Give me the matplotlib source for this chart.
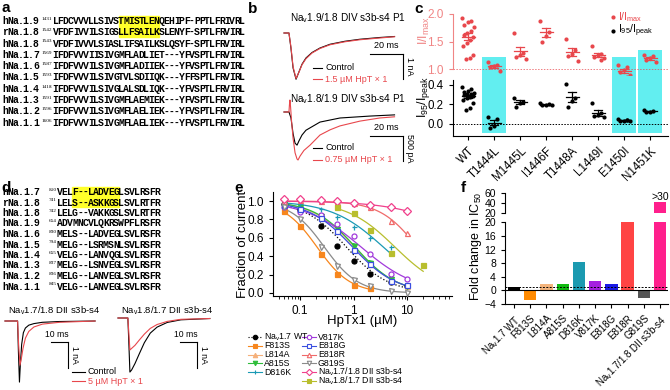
import numpy as np
import matplotlib
matplotlib.use('Agg')
import matplotlib.pyplot as plt
from matplotlib.patches import Rectangle

plt.rcParams['font.family'] = ['Liberation Sans', 'DejaVu Sans']
plt.rcParams['mathtext.fontset'] = 'custom'
plt.rcParams['mathtext.rm'] = 'Liberation Sans'
plt.rcParams['mathtext.it'] = 'Liberation Sans:italic'
plt.rcParams['axes.linewidth'] = 0.8

W, H = 670, 390
RED = '#e8474c'
CYAN = '#62eef0'

# ---------------- data ----------------
# a: DIV s3b-s4 alignment
names_a = ['hNa.1.9', 'rNa.1.8', 'hNa.1.8', 'hNa.1.7', 'hNa.1.6',
           'hNa.1.5', 'hNa.1.4', 'hNa.1.3', 'hNa.1.2', 'hNa.1.1']
starts_a = ['1431', '1542', '1543', '1569', '1587', '1593', '1418', '1591', '1596', '1606']
seqs_a = ['LFDCVVVLLSIVSTMISTLENQEHIPF-PPTLFRIVRL',
          'VFDFIVVILSIGSLLFSAILKSLENYF-SPTLFRVIRL',
          'VFDFIVVVLSIASLIFSAILKSLQSYF-SPTLFRVIRL',
          'IFDFVVVIISIVGMFLADLIET---YFVSPTLFRVIRL',
          'IFDFVVVILSIVGMFLADIIEK---YFVSPTLFRVIRL',
          'IFDFVVVILSIVGTVLSDIIQK---YFFSPTLFRVIRL',
          'IFDFVVVILSIVGLALSDLIQK---YFVSPTLFRVIRL',
          'IFDFVVVILSIVGMFLAEMIEK---YFVSPTLFRVIRL',
          'IFDFVVVILSIVGMFLAELIEK---YFVSPTLFRVIRL',
          'IFDFVVVILSIVGMFLAELIEK---YFVSPTLFRVIRL']
hl_a = (13, 21)

# d: DII s3b-s4 alignment
names_d = ['hNa.1.7', 'rNa.1.8', 'hNa.1.8', 'hNa.1.9', 'hNa.1.6',
           'hNa.1.5', 'hNa.1.4', 'hNa.1.3', 'hNa.1.2', 'hNa.1.1']
starts_d = ['810', '741', '742', '654', '830', '794', '655', '837', '836', '845']
seqs_d = ['VELF--LADVEGLSVLRSFR',
          'LELS--ASKKGSLSVLRTFR',
          'LELG--VAKKGSLSVLRTFR',
          'ADVMNCVLQKRSWPFLRSFR',
          'MELS--LADVEGLSVLRSFR',
          'MELG--LSRMSNLSVLRSFR',
          'VELG--LANVQGLSVLRSFR',
          'MELG--LSNVEGLSVLRSFR',
          'MELG--LANVEGLSVLRSFR',
          'VELG--LANVEGLSVLRSFR']
hl_d = (3, 12)

# b: current traces (ms, nA / pA)
b1_t = [0, 3, 4.2, 5.5, 7.3, 9.1, 10.9, 13.3, 17, 21.8, 27.9, 37, 46, 58, 67]
b1_ctrl = [0, 0, -0.6, -1.4, -1.85, -1.55, -1.25, -1.0, -0.78, -0.6, -0.45, -0.33, -0.25, -0.18, -0.14]
b1_hpt = [0, 0, -0.55, -1.35, -1.82, -1.56, -1.27, -1.03, -0.8, -0.62, -0.47, -0.35, -0.27, -0.2, -0.15]
b2_t_ctrl = [0, 3, 4.2, 5.5, 6.7, 7.9, 9.1, 10.9, 13.3, 15.8, 21.8, 33.9, 52, 67]
b2_ctrl = [0, 0, -120, -450, -650, -690, -600, -480, -380, -330, -210, -125, -85, -60]
b2_t_hpt = [0, 3, 3.3, 3.6, 4.0, 4.6, 5.5, 6.7, 7.9, 8.5, 9.7, 12.1, 15.8, 21.8, 28, 33.9, 46, 58, 67]
b2_hpt = [0, 0, 150, 250, 100, -200, -550, -850, -980, -1000, -920, -800, -690, -480, -370, -290, -190, -125, -100]

# d: current traces (ms, nA)
d1_t_ctrl = [0, 7.4, 7.9, 8.5, 9.0, 9.8, 10.8, 12, 14, 17, 22, 32, 53]
d1_ctrl = [0, 0, -1.2, -2.35, -1.7, -0.9, -0.45, -0.27, -0.16, -0.1, -0.05, -0.02, 0.0]
d1_t_hpt = [0, 7.4, 8.0, 8.8, 9.6, 10.6, 12, 14, 17, 22, 32, 53]
d1_hpt = [0, 0, -0.9, -1.7, -1.45, -1.05, -0.66, -0.4, -0.23, -0.12, -0.05, 0.0]
d2_t_ctrl = [0, 5.8, 6.4, 7.0, 8, 10, 12.5, 15.5, 19, 23, 29, 37, 54]
d2_ctrl = [0, 0, -1.0, -2.08, -2.0, -1.75, -1.38, -0.95, -0.58, -0.35, -0.17, -0.07, -0.02]
d2_t_hpt = [0, 5.8, 6.4, 7.0, 8, 10, 12.5, 15.5, 19, 23, 29, 37, 54]
d2_hpt = [0, 0, -0.6, -1.23, -1.17, -1.05, -0.85, -0.62, -0.4, -0.25, -0.13, -0.05, -0.02]

# c: I/Imax and I95/Ipeak per mutant
c_muts = ['WT', 'T1444L', 'M1445L', 'I1446F', 'T1448A', 'L1449I', 'E1450I', 'N1451K']
c_imax = [[1.92, 1.88, 1.86, 1.8, 1.76, 1.7, 1.66, 1.62, 1.58, 1.52, 1.48, 1.42, 1.25, 1.2, 1.18],
          [1.13, 1.08, 1.05, 1.03, 0.97],
          [1.66, 1.3, 1.25, 1.22, 1.18],
          [1.88, 1.68, 1.6, 1.5],
          [1.55, 1.35, 1.27, 1.23, 1.14],
          [1.42, 1.28, 1.25, 1.22, 1.2, 1.17],
          [1.08, 1.03, 0.98, 0.95, 0.9, 0.86],
          [1.25, 1.23, 1.2, 1.17, 1.12]]
c_i95 = [[0.38, 0.36, 0.34, 0.33, 0.32, 0.31, 0.31, 0.30, 0.29, 0.28, 0.27, 0.25, 0.22, 0.16, 0.14],
         [0.07, 0.05, -0.02, -0.04],
         [0.27, 0.23, 0.22, 0.17],
         [0.22, 0.2, 0.19, 0.19, 0.19],
         [0.41, 0.27, 0.24, 0.17],
         [0.22, 0.11, 0.09, 0.08, 0.07],
         [0.05, 0.04, 0.035, 0.03, 0.03, 0.04],
         [0.145, 0.135, 0.12, 0.12]]
c_box_top = {'T1444L': 1.22, 'E1450I': 1.22, 'N1451K': 1.345}

# e: concentration-response
e_conc = [0.05, 0.1, 0.25, 0.5, 1, 2, 5, 10, 20]
nan = np.nan
frac_wt = [0.97, 0.90, 0.73, 0.51, 0.35, 0.21, 0.12, 0.08, nan]
frac_f813s = [0.89, 0.73, 0.42, 0.21, 0.09, 0.05, nan, nan, nan]
frac_l814a = [0.97, 0.92, 0.83, 0.68, 0.50, 0.32, 0.15, 0.08, nan]
frac_a815s = [0.97, 0.93, 0.84, 0.70, 0.51, 0.33, 0.15, 0.08, nan]
frac_d816k = [0.98, 0.97, 0.91, 0.83, 0.72, 0.60, 0.50, nan, nan]
frac_v817k = [0.93, 0.88, 0.85, 0.75, 0.62, 0.42, 0.21, 0.15, nan]
frac_e818g = [0.96, 0.91, 0.82, 0.67, 0.47, 0.31, 0.13, 0.09, nan]
frac_e818r = [1.00, 1.01, 1.00, 0.99, 0.98, 0.93, 0.78, 0.65, nan]
frac_g819s = [0.93, 0.80, 0.50, 0.29, 0.14, 0.08, 0.02, 0.00, nan]
frac_chim78 = [1.02, 1.02, 1.01, 1.00, 0.98, 0.96, 0.93, 0.89, nan]
frac_chim87 = [nan, nan, nan, 0.93, 0.87, 0.68, 0.44, nan, 0.30]
e_series = [frac_wt, frac_f813s, frac_l814a, frac_a815s, frac_d816k, frac_v817k,
            frac_e818g, frac_e818r, frac_g819s, frac_chim78, frac_chim87]
e_labels = ['Na$_{\\rm v}$1.7 WT', 'F813S', 'L814A', 'A815S', 'D816K', 'V817K',
            'E818G', 'E818R', 'G819S', 'Na$_{\\rm v}$1.7/1.8 DII s3b-s4',
            'Na$_{\\rm v}$1.8/1.7 DII s3b-s4']
e_colors = ['black', '#f7861d', '#f5b07a', '#2ebd3a', '#1a9ab5', '#a23adb',
            '#3b4fe0', '#f06a6a', '#8a8a8a', '#f0408c', '#b8be2e']
e_markers = ['o', 's', '^', 'v', '+', 'o', 's', '^', 'v', 'D', 's']
e_filled = [True, True, True, True, True, False, False, False, False, False, True]

# f: fold change in IC50
f_names = ['Na$_{\\rm v}$1.7 WT', 'F813S', 'L814A', 'A815S', 'D816K', 'V817K',
           'E818G', 'E818R', 'G819S', 'Na$_{\\rm v}$1.7/1.8 DII s3b-s4']
f_fold = [1.0, -2.8, 2.0, 2.0, 8.3, 2.8, 2.0, 20.0, -2.3, 41.0]
f_colors = ['black', '#ff8a00', '#f4b47c', '#11bb11', '#1b9ab0', '#a51fe0',
            '#1a1ae6', '#ff4444', '#555555', '#ff1f8c']

# ---------------- figure ----------------
fig = plt.figure(figsize=(W / 100, H / 100), dpi=100)


def px_axes(x0, y0, x1, y1):
    ax = fig.add_axes([x0 / W, 1 - y1 / H, (x1 - x0) / W, (y1 - y0) / H])
    ax.patch.set_visible(False)
    return ax


def trace_ax(box, t0_px, px_per_t, base_px, px_per_i):
    x0, y0, x1, y1 = box
    ax = px_axes(*box)
    ax.set_xlim((x0 - t0_px) / px_per_t, (x1 - t0_px) / px_per_t)
    ax.set_ylim(-(y1 - base_px) / px_per_i, (base_px - y0) / px_per_i)
    ax.axis('off')
    return ax


# --- b traces
ax = trace_ax((280, 22, 410, 85), 284, 1.65, 33, 25)
ax.plot(b1_t, b1_ctrl, color='black', lw=0.8)
ax.plot(b1_t, b1_hpt, color=RED, lw=0.8)
ax = trace_ax((280, 90, 410, 165), 284, 1.65, 112, 0.048)
ax.plot(b2_t_ctrl, b2_ctrl, color='black', lw=0.8)
ax.plot(b2_t_hpt, b2_hpt, color=RED, lw=0.8)

# --- d traces
ax = trace_ax((3, 314, 100, 388), 5, 1.7, 321, 26)
ax.plot(d1_t_ctrl, d1_ctrl, color='black', lw=0.8)
ax.plot(d1_t_hpt, d1_hpt, color=RED, lw=0.8)
ax = trace_ax((115, 312, 215, 388), 118, 1.7, 318, 26)
ax.plot(d2_t_ctrl, d2_ctrl, color='black', lw=0.8)
ax.plot(d2_t_hpt, d2_hpt, color=RED, lw=0.8)

# --- c
ax_ct = px_axes(453, 8, 668, 76)
ax_cb = px_axes(453, 76, 668, 136)
pos = np.arange(len(c_muts))
for a_ in (ax_ct, ax_cb):
    a_.set_xlim(-0.577, 7.69)
    for s in ('top', 'right'):
        a_.spines[s].set_visible(False)
ax_ct.set_ylim(0.873, 2.109)
ax_cb.set_ylim(-0.123, 0.492)
for i, m in enumerate(c_muts):
    if m in c_box_top:
        ax_ct.bar(i, c_box_top[m] - 0.873, bottom=0.873, width=0.9, color=CYAN, zorder=0)
        ax_cb.bar(i, 0.492 + 0.092, bottom=-0.092, width=0.9, color=CYAN, zorder=0)
    for a_, vals, col in ((ax_ct, c_imax[i], RED), (ax_cb, c_i95[i], 'black')):
        v = np.array(vals)
        n = len(v)
        off = ((np.arange(n) * 0.37) % 0.5) - 0.25
        a_.scatter(i + off, v, s=9, color=col, lw=0, zorder=3)
        mu, se = v.mean(), v.std(ddof=1) / np.sqrt(n)
        a_.plot([i - 0.25, i + 0.25], [mu, mu], color=col, lw=0.9, zorder=4)
        a_.plot([i - 0.14, i + 0.14], [mu + se, mu + se], color=col, lw=0.9, zorder=4)
        a_.plot([i - 0.14, i + 0.14], [mu - se, mu - se], color=col, lw=0.9, zorder=4)
        a_.plot([i, i], [mu - se, mu + se], color=col, lw=0.9, zorder=4)
ax_ct.axhline(1.0, color=RED, ls=(0, (1.5, 1.5)), lw=0.7, alpha=0.7)
ax_cb.axhline(0.0, color='black', ls=(0, (1.5, 1.5)), lw=0.7)
ax_ct.spines['bottom'].set_visible(False)
ax_ct.spines['left'].set_color('#f08585')
ax_ct.spines['left'].set_bounds(1.0, 2.0)
ax_ct.set_xticks([])
ax_ct.set_yticks([1.0, 1.5, 2.0])
ax_ct.tick_params(axis='y', colors='#f08585', labelsize=8.5, length=3)
ax_cb.spines['left'].set_bounds(-0.123, 0.45)
ax_cb.set_yticks([0.0, 0.2, 0.4])
ax_cb.set_xticks(pos)
ax_cb.set_xticklabels(c_muts, rotation=45, ha='right', rotation_mode='anchor')
ax_cb.tick_params(labelsize=8.3, length=3)

# --- e
ax_e = px_axes(273, 192, 452, 296)
ax_e.set_xscale('log')
ax_e.set_xlim(0.0313, 69)
ax_e.set_ylim(-0.033, 1.098)
conc = np.array(e_conc)
for vals, col, mk, fill in zip(e_series, e_colors, e_markers, e_filled):
    v = np.array(vals, dtype=float)
    ok = np.isfinite(v)
    fit = ok & (v > 0.02) & (v < 0.98)
    slope, icpt = np.polyfit(np.log10(conc[fit]), np.log10(1 / v[fit] - 1), 1)
    xs = np.logspace(np.log10(conc[ok].min()), np.log10(conc[ok].max()), 120)
    ys = 1 / (1 + 10 ** (slope * np.log10(xs) + icpt))
    ls = ':' if col == 'black' else '-'
    ax_e.plot(xs, ys, color=col, lw=0.9, ls=ls)
    ax_e.plot(conc[ok], v[ok], ls='none', marker=mk, ms=3.6, mew=0.9, color=col,
              mfc=col if fill else 'white', zorder=3)
for s in ('top', 'right'):
    ax_e.spines[s].set_visible(False)
ax_e.set_yticks([0, 0.2, 0.4, 0.6, 0.8, 1.0])
ax_e.set_yticklabels(['0.0', '0.2', '0.4', '0.6', '0.8', '1.0'])
ax_e.set_xticks([0.1, 1, 10])
ax_e.set_xticklabels(['0.1', '1', '10'])
ax_e.tick_params(labelsize=8.5, length=3)
ax_e.tick_params(which='minor', length=1.8)

# --- f
ax_fu = px_axes(505, 191, 668, 214)
ax_fl = px_axes(505, 221, 668, 304)
fpos = np.arange(len(f_names))
fold = np.array(f_fold)
ax_fl.bar(fpos, np.minimum(fold, 20), width=0.76, color=f_colors, zorder=2)
big = fold > 20
ax_fu.bar(fpos[big], fold[big] - 20, bottom=20, width=0.76,
          color=[c for c, b in zip(f_colors, big) if b], zorder=2)
for i in fpos[big]:
    ax_fu.text(i, fold[i], '>30', ha='center', va='bottom', fontsize=7.5, clip_on=False)
for a_ in (ax_fu, ax_fl):
    a_.set_xlim(-0.555, 9.49)
    for s in ('top', 'right'):
        a_.spines[s].set_visible(False)
    a_.tick_params(labelsize=7.5, length=3)
ax_fu.set_ylim(18.1, 63.8)
ax_fu.set_yticks([20, 40, 60])
ax_fu.spines['bottom'].set_visible(False)
ax_fu.spines['left'].set_bounds(20, 60)
ax_fu.set_xticks([])
ax_fl.set_ylim(-4, 20.4)
ax_fl.set_yticks([-4, 0, 4, 8, 12, 16, 20])
ax_fl.spines['left'].set_bounds(-4, 20)
ax_fl.axhline(0, color='black', lw=0.8, zorder=3)
ax_fl.axhline(1, color='black', lw=0.7, ls=(0, (2, 1.5)), zorder=3)
ax_fl.set_xticks(fpos)
ax_fl.set_xticklabels(f_names, rotation=45, ha='right', rotation_mode='anchor', fontsize=7)

# --- overlay: text, legends, scale bars
ov = px_axes(0, 0, W, H)
ov.set_xlim(0, W)
ov.set_ylim(H, 0)
ov.axis('off')


def mono_row(x, y, s, cw, fs):
    # one glyph per column so the alignment grid is exact
    for j, ch in enumerate(s):
        ov.text(x + (j + 0.5) * cw, y, ch, family='Liberation Mono',
                weight='bold', fontsize=fs, ha='center', va='center')


def alignment(names, starts, seqs, hl, x_seq, y0, dy, cw, fs):
    for i, (n, s, q) in enumerate(zip(names, starts, seqs)):
        y = y0 + i * dy
        mono_row(3, y, n, cw, fs)
        ov.text(x_seq - 0.5, y - 2.2, s, family='Liberation Serif', fontsize=3.8,
                ha='right', va='center')
        mono_row(x_seq, y, q, cw, fs)
        if i < 2:
            ov.add_patch(Rectangle((x_seq + hl[0] * cw, y - dy / 2 + 0.6),
                                   (hl[1] - hl[0]) * cw, dy - 1.2,
                                   color='#ffff2a', zorder=0))


alignment(names_a, starts_a, seqs_a, hl_a, 53, 21, 11.3, 5.05, 7)
alignment(names_d, starts_d, seqs_d, hl_d, 57, 192, 10.5, 5.15, 7)

# panel letters
for x, y, t in [(1, 1, 'a'), (248, 2, 'b'), (414, 2, 'c'), (1, 181, 'd'),
                (234, 181, 'e'), (461, 181, 'f')]:
    ov.text(x, y, t, fontsize=11, weight='bold', ha='left', va='top')

# b annotations
ov.text(290, 18, 'Na$_{\\rm v}$1.9/1.8 DIV s3b-s4 P1', fontsize=7.2, va='center')
ov.text(290, 99, 'Na$_{\\rm v}$1.8/1.9 DIV s3b-s4 P1', fontsize=7.2, va='center')
for yb, ytxt, lab in [(54, 50, '1 nA'), (136, 132, '500 pA')]:
    ov.plot([370, 403], [yb, yb], color='black', lw=0.8)
    ov.plot([403, 403], [yb, yb + 25], color='black', lw=0.8)
    ov.text(386, ytxt, '20 ms', fontsize=6.5, ha='center', va='bottom')
    ov.text(405, yb + 12, lab, fontsize=6.5, ha='left', va='center', rotation=270)
for yc, yr, lab in [(68, 79, '1.5 µM HpT × 1'), (148, 160, '0.75 µM HpT × 1')]:
    ov.plot([313, 322], [yc, yc], color='black', lw=0.8)
    ov.text(325, yc, 'Control', fontsize=6.5, va='center')
    ov.plot([313, 322], [yr, yr], color=RED, lw=0.8)
    ov.text(325, yr, lab, fontsize=6.5, va='center', color=RED)

# c annotations
ov.text(424, 31, 'I/I$_{\\rm max}$', color='#f08585', fontsize=9, rotation=90,
        ha='center', va='center')
ov.text(424, 97, 'I$_{95}$/I$_{\\rm peak}$', color='black', fontsize=9, rotation=90,
        ha='center', va='center')
ov.scatter([613], [17], s=9, color=RED, lw=0)
ov.text(618, 17, 'I/I$_{\\rm max}$', color=RED, fontsize=7.5, va='center')
ov.scatter([613], [31], s=9, color='black', lw=0)
ov.text(618, 31, 'I$_{95}$/I$_{\\rm peak}$', color='black', fontsize=7.5, va='center')

# d annotations
ov.text(8, 311, 'Na$_{\\rm v}$1.7/1.8 DII s3b-s4', fontsize=6.8, va='center')
ov.text(121, 311, 'Na$_{\\rm v}$1.8/1.7 DII s3b-s4', fontsize=6.8, va='center')
for xv in (68, 197):
    ov.plot([xv - 17, xv], [342, 342], color='black', lw=0.8)
    ov.plot([xv, xv], [342, 368], color='black', lw=0.8)
    ov.text(xv - 11, 339, '10 ms', fontsize=6.2, ha='center', va='bottom')
    ov.text(xv + 2, 355, '1 nA', fontsize=6.2, ha='left', va='center', rotation=270)
ov.plot([72, 85], [372, 372], color='black', lw=0.8)
ov.text(88, 372, 'Control', fontsize=6.5, va='center')
ov.plot([72, 85], [381, 381], color=RED, lw=0.8)
ov.text(88, 381, '5 µM HpT × 1', fontsize=6.5, va='center', color=RED)

# e annotations
ov.text(243, 244, 'Fraction of current', fontsize=9.5, rotation=90, ha='center', va='center')
ov.text(362, 321, 'HpTx1 (µM)', fontsize=9.5, ha='center', va='center')
for k, (lab, col, mk, fill) in enumerate(zip(e_labels, e_colors, e_markers, e_filled)):
    if k < 5:
        x0, y = 248, 337 + 8.8 * k
    else:
        x0, y = 302, 337 + 8.8 * (k - 5)
    ov.plot([x0, x0 + 14], [y, y], color=col, lw=0.8, ls=':' if k == 0 else '-')
    ov.plot([x0 + 7], [y], marker=mk, ms=3.2, mew=0.8, color=col,
            mfc=col if fill else 'white')
    ov.text(x0 + 16, y, lab, fontsize=6.3, va='center')

# f annotations
ov.text(476, 246, 'Fold change in IC$_{50}$', fontsize=9, rotation=90, ha='center', va='center')

fig.savefig('out.png', dpi=100)
